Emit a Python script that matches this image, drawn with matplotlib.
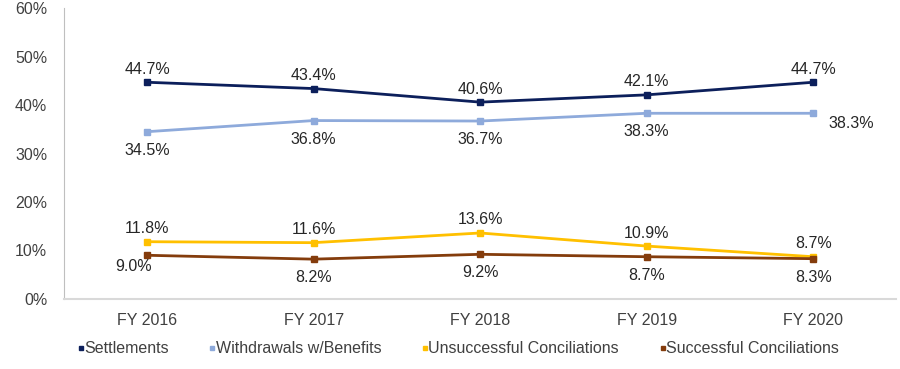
import matplotlib
matplotlib.use("Agg")
import matplotlib.pyplot as plt

plt.rcParams['font.family'] = ['Liberation Sans', 'DejaVu Sans']

years = ["FY 2016", "FY 2017", "FY 2018", "FY 2019", "FY 2020"]
settlements = [44.7, 43.4, 40.6, 42.1, 44.7]
withdrawals = [34.5, 36.8, 36.7, 38.3, 38.3]
unsuccessful = [11.8, 11.6, 13.6, 10.9, 8.7]
successful = [9.0, 8.2, 9.2, 8.7, 8.3]

series = [
    ("Settlements", settlements, "#0c1f5b", "above"),
    ("Withdrawals w/Benefits", withdrawals, "#8eaadb", "below"),
    ("Unsuccessful Conciliations", unsuccessful, "#ffc000", "above"),
    ("Successful Conciliations", successful, "#843c0c", "below"),
]

fig = plt.figure(figsize=(9, 3.69), dpi=100)
ax = fig.add_axes([0.071, 0.19, 0.925, 0.788])
x = list(range(len(years)))
txt = "#262626"
fs = 11.5

for name, vals, col, pos in series:
    ax.plot(x, vals, color=col, lw=2, marker="s", ms=4, label=name)
    for i, v in enumerate(vals):
        if name == "Withdrawals w/Benefits" and i == 4:
            ax.annotate(f"{v:.1f}%", (i, v), xytext=(11, -7), textcoords="offset points",
                        ha="left", va="center", fontsize=fs, color=txt)
            continue
        dy = 4 if pos == "above" else -8
        va = "bottom" if pos == "above" else "top"
        dx = 0
        if name == "Successful Conciliations" and i == 0:
            dx, dy = -10, -3
        ax.annotate(f"{v:.1f}%", (i, v), xytext=(dx, dy), textcoords="offset points",
                    ha="center", va=va, fontsize=fs, color=txt)

ax.set_xlim(-0.5, 4.5)
ax.set_ylim(0, 60)
ax.set_yticks(range(0, 61, 10))
ax.set_yticklabels([f"{t}%" for t in range(0, 61, 10)])
ax.set_xticks(x)
ax.set_xticklabels(years)
ax.tick_params(length=0, labelsize=fs, colors="#404040", pad=10)
ax.tick_params(axis="y", pad=12)
for s in ["top", "right"]:
    ax.spines[s].set_visible(False)
ax.spines["left"].set_color("#bfbfbf")
ax.spines["bottom"].set_color("#d9d9d9")
ax.spines["bottom"].set_linewidth(1.5)

handles = [plt.Line2D([], [], color=c, marker="s", ms=3, ls="none") for _, _, c, _ in series]
fig.legend(handles, [s[0] for s in series], loc="lower left", bbox_to_anchor=(0.071, -0.005),
           ncol=4, frameon=False, fontsize=fs, handlelength=0.3, handletextpad=0.05,
           columnspacing=2.6, labelcolor="#404040")

fig.savefig("out.png", dpi=100)
